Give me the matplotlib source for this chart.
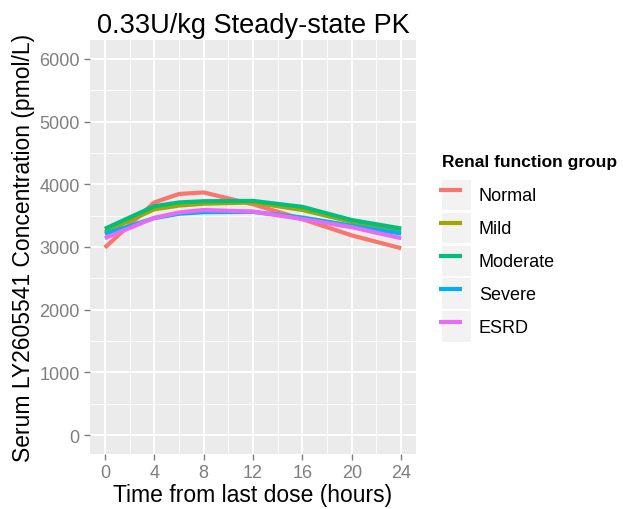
import matplotlib
matplotlib.use("Agg")
import matplotlib.pyplot as plt
from matplotlib.legend_handler import HandlerLine2D
from matplotlib.patches import Rectangle
from matplotlib.ticker import MultipleLocator

plt.rcParams['font.family'] = ['Liberation Sans', 'DejaVu Sans']

# data
hours = [0, 4, 6, 8, 12, 16, 20, 24]
groups = ['Normal', 'Mild', 'Moderate', 'Severe', 'ESRD']
normal = [2990, 3710, 3845, 3870, 3680, 3445, 3185, 2980]
mild = [3240, 3600, 3660, 3690, 3710, 3590, 3400, 3260]
moderate = [3290, 3650, 3710, 3730, 3735, 3640, 3430, 3295]
severe = [3210, 3460, 3530, 3555, 3560, 3470, 3340, 3215]
esrd = [3140, 3465, 3550, 3590, 3565, 3445, 3315, 3140]
colors = ['#F8766D', '#A3A500', '#00BF7D', '#00B0F6', '#E76BF3']


# legend key with the grey ggplot background box
class KeyHandler(HandlerLine2D):
    def create_artists(self, legend, orig_handle, xdescent, ydescent,
                       width, height, fontsize, trans):
        bg = Rectangle((-xdescent, -ydescent), width, height,
                       facecolor='#F2F2F2', edgecolor='none', transform=trans)
        arts = super().create_artists(legend, orig_handle, xdescent + 2,
                                      ydescent, width - 4, height,
                                      fontsize, trans)
        return [bg] + list(arts)


fig = plt.figure(figsize=(6.23, 5.10), dpi=100)
ax = fig.add_axes([90 / 623, 1 - 455 / 510, 326 / 623, 414 / 510])
ax.set_facecolor('#EBEBEB')

for name, vals, c in zip(groups, [normal, mild, moderate, severe, esrd], colors):
    ax.plot(hours, vals, color=c, lw=3, label=name, solid_capstyle='butt')

ax.set_xlim(-1.2, 25.2)
ax.set_ylim(-300, 6300)
ax.xaxis.set_major_locator(MultipleLocator(4))
ax.xaxis.set_minor_locator(MultipleLocator(2))
ax.yaxis.set_major_locator(MultipleLocator(1000))
ax.yaxis.set_minor_locator(MultipleLocator(500))
ax.grid(which='major', color='white', lw=1.4)
ax.grid(which='minor', color='white', lw=0.6)
ax.set_axisbelow(True)
for s in ax.spines.values():
    s.set_visible(False)
ax.tick_params(which='major', colors='#7F7F7F', labelsize=13, length=4, width=1)
ax.tick_params(which='minor', length=0)

ax.set_title('0.33U/kg Steady-state PK', fontsize=19.5, pad=6)
ax.set_xlabel('Time from last dose (hours)', fontsize=16.5, labelpad=1)
ax.set_ylabel('Serum LY2605541 Concentration (pmol/L)', fontsize=16.5, labelpad=3)

leg = ax.legend(loc='upper left', bbox_to_anchor=(0.709, 0.697),
                bbox_transform=fig.transFigure, frameon=False,
                title='Renal function group', fontsize=13,
                title_fontproperties={'weight': 'bold', 'size': 12.5},
                handlelength=1.6, handleheight=2.2, handletextpad=0.45,
                labelspacing=0.15, borderpad=0, borderaxespad=0,
                handler_map={plt.Line2D: KeyHandler()})
leg._legend_box.align = 'left'
leg._legend_box.sep = 8

fig.savefig('out.png', dpi=100)
